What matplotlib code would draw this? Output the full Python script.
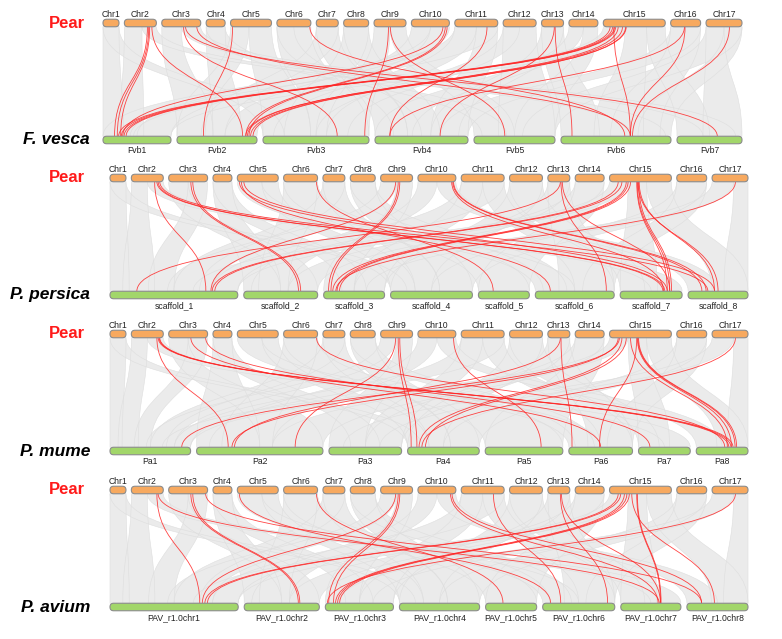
import matplotlib
matplotlib.use("Agg")
import matplotlib.pyplot as plt
from matplotlib.path import Path
from matplotlib.patches import PathPatch, FancyBboxPatch

plt.rcParams['font.family'] = ['Liberation Sans', 'DejaVu Sans']

# chromosome names / relative lengths
PEAR_CHR = ["Chr%d" % i for i in range(1, 18)]
PEAR_LEN = [16, 32, 39, 19, 41, 34, 22, 25, 32, 38, 43, 33, 22, 29, 62, 30, 36]

FVESCA_CHR = ["Fvb1", "Fvb2", "Fvb3", "Fvb4", "Fvb5", "Fvb6", "Fvb7"]
FVESCA_LEN = [68, 80, 106, 93, 81, 110, 65]

PERSICA_CHR = ["scaffold_%d" % i for i in range(1, 9)]
PERSICA_LEN = [128, 74, 61, 82, 51, 79, 62, 60]

MUME_CHR = ["Pa%d" % i for i in range(1, 9)]
MUME_LEN = [81, 127, 73, 72, 78, 64, 52, 52]

AVIUM_CHR = ["PAV_r1.0chr%d" % i for i in range(1, 9)]
AVIUM_LEN = [128, 75, 68, 80, 51, 72, 60, 61]

# grey syntenic blocks: (pear chr, start, end, target chr, start, end), relative positions
FVESCA_GREY = [
    (1, 0.0, 1.0, 1, 0.0, 0.3), (2, 0.0, 0.55, 1, 0.25, 0.6), (2, 0.55, 1.0, 6, 0.65, 0.95),
    (3, 0.0, 0.5, 2, 0.0, 0.45), (3, 0.5, 1.0, 7, 0.4, 0.9), (4, 0.0, 1.0, 2, 0.45, 0.8),
    (5, 0.0, 0.45, 2, 0.0, 0.35), (5, 0.45, 1.0, 3, 0.0, 0.45), (6, 0.0, 1.0, 3, 0.45, 1.0),
    (7, 0.0, 1.0, 4, 0.0, 0.35), (8, 0.0, 1.0, 4, 0.35, 0.7), (9, 0.0, 0.5, 3, 0.6, 1.0),
    (9, 0.5, 1.0, 5, 0.0, 0.5), (10, 0.0, 0.5, 2, 0.6, 1.0), (10, 0.5, 1.0, 1, 0.5, 1.0),
    (11, 0.0, 0.5, 3, 0.1, 0.6), (11, 0.5, 1.0, 4, 0.6, 1.0), (12, 0.0, 1.0, 5, 0.3, 1.0),
    (13, 0.0, 1.0, 6, 0.0, 0.35), (14, 0.0, 0.5, 4, 0.0, 0.4), (14, 0.5, 1.0, 5, 0.5, 1.0),
    (15, 0.0, 0.35, 1, 0.45, 1.0), (15, 0.35, 0.7, 6, 0.3, 0.75), (15, 0.7, 1.0, 7, 0.0, 0.5),
    (16, 0.0, 1.0, 6, 0.45, 0.9), (17, 0.0, 0.5, 7, 0.4, 1.0), (17, 0.5, 1.0, 6, 0.7, 1.0),
    (4, 0.0, 1.0, 5, 0.1, 0.4), (6, 0.0, 0.5, 4, 0.2, 0.5), (7, 0.0, 1.0, 2, 0.3, 0.6),
    (8, 0.0, 1.0, 3, 0.2, 0.5), (12, 0.0, 0.5, 3, 0.5, 0.8), (13, 0.0, 1.0, 4, 0.6, 0.9),
    (1, 0.0, 1.0, 3, 0.0, 0.2), (17, 0.0, 1.0, 5, 0.6, 1.0), (16, 0.0, 1.0, 4, 0.7, 1.0),
    (11, 0.0, 1.0, 1, 0.0, 0.4),
]

PRUNUS_GREY = [
    (1, 0.0, 1.0, 1, 0.0, 0.15), (2, 0.0, 0.5, 1, 0.1, 0.35), (2, 0.5, 1.0, 7, 0.5, 1.0),
    (3, 0.0, 0.5, 2, 0.5, 1.0), (3, 0.5, 1.0, 1, 0.3, 0.5), (4, 0.0, 1.0, 2, 0.0, 0.5),
    (5, 0.0, 0.6, 6, 0.0, 0.5), (5, 0.6, 1.0, 4, 0.0, 0.3), (6, 0.0, 1.0, 5, 0.0, 1.0),
    (7, 0.0, 1.0, 4, 0.3, 0.6), (8, 0.0, 1.0, 4, 0.6, 1.0), (9, 0.0, 0.5, 1, 0.45, 0.8),
    (9, 0.5, 1.0, 3, 0.0, 0.5), (10, 0.0, 0.5, 2, 0.1, 0.6), (10, 0.5, 1.0, 8, 0.0, 0.5),
    (11, 0.0, 0.5, 3, 0.5, 1.0), (11, 0.5, 1.0, 6, 0.5, 1.0), (12, 0.0, 1.0, 4, 0.0, 0.5),
    (13, 0.0, 1.0, 6, 0.3, 1.0), (14, 0.0, 1.0, 5, 0.0, 1.0), (15, 0.0, 0.3, 1, 0.65, 1.0),
    (15, 0.3, 0.6, 7, 0.0, 0.6), (15, 0.6, 1.0, 8, 0.4, 1.0), (16, 0.0, 1.0, 4, 0.5, 1.0),
    (17, 0.0, 0.6, 3, 0.2, 0.7), (17, 0.6, 1.0, 8, 0.6, 1.0),
    (4, 0.0, 1.0, 3, 0.3, 0.7), (6, 0.0, 1.0, 2, 0.2, 0.6), (7, 0.0, 1.0, 1, 0.5, 0.7),
    (8, 0.0, 1.0, 6, 0.1, 0.4), (12, 0.0, 1.0, 7, 0.0, 0.4), (13, 0.0, 1.0, 3, 0.5, 1.0),
    (16, 0.0, 1.0, 6, 0.6, 1.0), (1, 0.0, 1.0, 4, 0.0, 0.2), (14, 0.0, 1.0, 2, 0.6, 1.0),
    (11, 0.0, 1.0, 1, 0.8, 1.0),
]

# red gene pairs: (pear chr, position, target chr, position)
FVESCA_RED = [
    (2, 0.72, 1, 0.17), (2, 0.76, 1, 0.21), (2, 0.79, 1, 0.26), (2, 0.86, 2, 0.82),
    (3, 0.56, 3, 0.70), (3, 0.61, 7, 0.62), (3, 0.90, 6, 0.63),
    (5, 0.05, 2, 0.33), (6, 0.97, 6, 0.58),
    (9, 0.45, 3, 0.96), (9, 0.51, 5, 0.38),
    (10, 0.83, 1, 0.29), (10, 0.89, 2, 0.86), (10, 0.94, 2, 0.90),
    (11, 0.75, 4, 0.16), (13, 0.58, 4, 0.70), (13, 0.62, 6, 0.10),
    (15, 0.11, 1, 0.23), (15, 0.15, 1, 0.27), (15, 0.18, 1, 0.31), (15, 0.20, 1, 0.34),
    (15, 0.24, 2, 0.88), (15, 0.31, 2, 0.86), (15, 0.36, 2, 0.92), (15, 0.37, 2, 0.95),
    (15, 0.17, 6, 0.63), (16, 0.48, 6, 0.63), (16, 0.46, 4, 0.16), (17, 0.65, 6, 0.65),
]

PERSICA_RED = [
    (2, 0.73, 1, 0.75), (2, 0.80, 7, 0.69), (2, 0.84, 7, 0.72), (2, 0.89, 8, 0.33),
    (3, 0.57, 2, 0.74), (3, 0.62, 2, 0.77),
    (5, 0.05, 7, 0.76), (5, 0.16, 8, 0.44), (5, 0.10, 6, 0.19),
    (6, 0.97, 5, 0.29),
    (9, 0.47, 1, 0.79), (9, 0.55, 3, 0.08), (9, 0.60, 3, 0.12),
    (10, 0.89, 7, 0.70), (10, 0.92, 8, 0.23), (10, 0.94, 8, 0.30),
    (13, 0.57, 1, 0.21), (13, 0.60, 6, 0.90), (13, 0.66, 7, 0.80),
    (15, 0.14, 1, 0.80), (15, 0.20, 1, 0.82), (15, 0.27, 3, 0.15), (15, 0.30, 3, 0.22),
    (15, 0.34, 3, 0.26), (15, 0.44, 7, 0.76), (15, 0.45, 7, 0.80), (15, 0.47, 7, 0.83),
    (15, 0.46, 8, 0.50), (15, 0.48, 8, 0.44),
    (17, 0.65, 3, 0.20),
]

MUME_RED = [
    (2, 0.80, 2, 0.25), (2, 0.84, 8, 0.63), (2, 0.87, 8, 0.67), (2, 0.89, 8, 0.71),
    (3, 0.57, 6, 0.50), (3, 0.95, 7, 0.22),
    (6, 0.97, 8, 0.55),
    (9, 0.47, 2, 0.78), (9, 0.55, 4, 0.05), (9, 0.60, 4, 0.13),
    (10, 0.94, 5, 0.72),
    (13, 0.57, 2, 0.30), (13, 0.60, 6, 0.05),
    (15, 0.14, 2, 0.28), (15, 0.16, 1, 0.89), (15, 0.20, 4, 0.16), (15, 0.27, 4, 0.25),
    (15, 0.34, 8, 0.60), (15, 0.44, 6, 0.48), (15, 0.45, 8, 0.68), (15, 0.46, 8, 0.75),
    (15, 0.47, 8, 0.78),
    (17, 0.65, 4, 0.20),
]

AVIUM_RED = [
    (2, 0.80, 1, 0.70), (2, 0.84, 7, 0.64),
    (3, 0.57, 2, 0.72), (3, 0.62, 2, 0.74), (3, 0.95, 8, 0.24),
    (5, 0.05, 6, 0.11), (6, 0.97, 5, 0.34),
    (9, 0.47, 1, 0.72), (9, 0.55, 3, 0.05), (9, 0.60, 3, 0.12),
    (10, 0.86, 7, 0.62), (10, 0.90, 8, 0.24),
    (11, 0.75, 6, 0.25),
    (13, 0.57, 6, 0.90), (13, 0.62, 7, 0.66),
    (15, 0.14, 1, 0.74), (15, 0.18, 1, 0.76), (15, 0.24, 3, 0.15), (15, 0.28, 3, 0.18),
    (15, 0.32, 3, 0.21), (15, 0.36, 8, 0.45), (15, 0.44, 7, 0.66), (15, 0.45, 7, 0.67),
    (17, 0.65, 3, 0.03),
]

ORANGE = "#f7a95f"
GREEN = "#a2d66a"
EDGE = "#8c8c8c"
BAR_H = 7.5


def layout(lengths, x0, x1, gap):
    scale = (x1 - x0 - gap * (len(lengths) - 1)) / sum(lengths)
    out = []
    x = x0
    for L in lengths:
        out.append((x, L * scale))
        x += L * scale + gap
    return out


def draw_bars(ax, segs, names, y, color, label_dy):
    for (x, w), name in zip(segs, names):
        ax.add_patch(FancyBboxPatch((x, y - BAR_H / 2), w, BAR_H,
                                    boxstyle="round,pad=0,rounding_size=3.6",
                                    fc=color, ec=EDGE, lw=0.8, zorder=5))
        ax.text(x + w / 2, y + label_dy, name, ha="center", va="center",
                fontsize=6.2, color="#222222", zorder=6)


def pos(segs, c, f):
    x, w = segs[c - 1]
    return x + f * w


def draw_panel(ax, name, tnames, tlens, grey, red, yt, yb, x0, x1):
    top = layout(PEAR_LEN, x0, x1, 5.4)
    bot = layout(tlens, x0, x1, 6.0)
    y1 = yt + BAR_H / 2
    y2 = yb - BAR_H / 2
    ym = (y1 + y2) / 2

    # grey blocks: solid fill first, faint outlines on top for the mesh look
    for pc, p0, p1, tc, t0, t1 in grey:
        a0, a1 = pos(top, pc, p0), pos(top, pc, p1)
        b0, b1 = pos(bot, tc, t0), pos(bot, tc, t1)
        verts = [(a0, y1), (a1, y1), (a1, ym), (b1, ym), (b1, y2),
                 (b0, y2), (b0, ym), (a0, ym), (a0, y1), (a0, y1)]
        codes = [Path.MOVETO, Path.LINETO, Path.CURVE4, Path.CURVE4, Path.CURVE4,
                 Path.LINETO, Path.CURVE4, Path.CURVE4, Path.CURVE4, Path.CLOSEPOLY]
        ax.add_patch(PathPatch(Path(verts, codes), fc="#ebebeb", ec="none", zorder=1))
        ax.add_patch(PathPatch(Path(verts, codes), fc="none", ec="#dedede",
                               lw=0.4, zorder=2))

    for pc, pp, tc, tp in red:
        a = pos(top, pc, pp)
        b = pos(bot, tc, tp)
        verts = [(a, y1), (a, ym), (b, ym), (b, y2)]
        codes = [Path.MOVETO, Path.CURVE4, Path.CURVE4, Path.CURVE4]
        ax.add_patch(PathPatch(Path(verts, codes), fc="none", ec="#ff2424",
                               lw=0.6, alpha=0.85, zorder=3))

    draw_bars(ax, top, PEAR_CHR, yt, ORANGE, -8.5)
    draw_bars(ax, bot, tnames, yb, GREEN, 10.5)

    ax.text(67, yt, "Pear", color="#ff1a1a", fontsize=12, fontweight="bold",
            ha="center", va="center")
    ax.text(90, yb, name, color="black", fontsize=12.5, fontweight="bold",
            fontstyle="italic", ha="right", va="center")


fig = plt.figure(figsize=(7.82, 6.39), dpi=100)
ax = fig.add_axes([0, 0, 1, 1])
ax.set_xlim(0, 782)
ax.set_ylim(639, 0)
ax.axis("off")

draw_panel(ax, "F. vesca", FVESCA_CHR, FVESCA_LEN, FVESCA_GREY, FVESCA_RED, 23, 140, 103, 742)
draw_panel(ax, "P. persica", PERSICA_CHR, PERSICA_LEN, PRUNUS_GREY, PERSICA_RED, 178, 295, 110, 748)
draw_panel(ax, "P. mume", MUME_CHR, MUME_LEN, PRUNUS_GREY, MUME_RED, 334, 451, 110, 748)
draw_panel(ax, "P. avium", AVIUM_CHR, AVIUM_LEN, PRUNUS_GREY, AVIUM_RED, 490, 607, 110, 748)

fig.savefig("out.png", dpi=100)
